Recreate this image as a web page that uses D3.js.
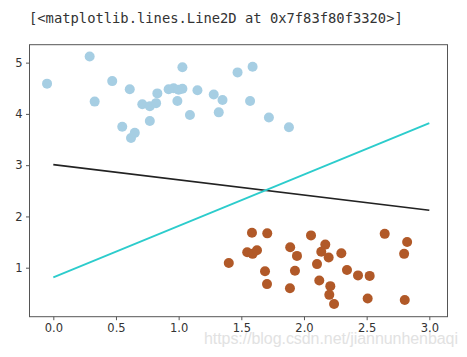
<!DOCTYPE html>
<html>
<head>
<meta charset="utf-8">
<script src="https://cdn.jsdelivr.net/npm/d3@7"></script>
<style>
html,body{margin:0;padding:0;background:#fff;}
svg{display:block;}
</style>
</head>
<body>
<svg id="chart" width="467" height="357"></svg>
<script>
// ---- data ----
const headerText = "[<matplotlib.lines.Line2D at 0x7f83f80f3320>]";
const watermark = "https://blog.csdn.net/jiannunhenbaqi";
const blueX = [-0.05,0.29,0.33,0.47,0.55,0.61,0.62,0.65,0.71,0.77,0.77,0.82,0.83,0.92,0.96,1.00,1.03,0.99,1.03,1.09,1.15,1.28,1.32,1.35,1.47,1.57,1.59,1.72,1.88];
const blueY = [4.59,5.12,4.24,4.64,3.75,4.48,3.53,3.63,4.19,4.15,3.86,4.21,4.40,4.48,4.50,4.47,4.49,4.25,4.91,3.98,4.46,4.38,4.03,4.27,4.81,4.25,4.92,3.93,3.74];
const orangeX = [1.40,1.585,1.707,1.547,1.59,1.625,1.689,1.705,1.89,1.944,1.928,1.888,2.056,2.104,2.122,2.17,2.138,2.197,2.298,2.343,2.431,2.524,2.21,2.202,2.24,2.508,2.644,2.823,2.799,2.804];
const orangeY = [1.09,1.68,1.67,1.30,1.27,1.34,0.93,0.68,1.40,1.23,0.94,0.60,1.63,1.07,0.75,1.45,1.31,1.20,1.28,0.955,0.85,0.84,0.64,0.47,0.29,0.40,1.66,1.50,1.27,0.37];
const lineX = [0, 3];
const blackLineY = [3.01, 2.12];
const cyanLineY = [0.81, 3.82];
const xTicks = [0, 0.5, 1.0, 1.5, 2.0, 2.5, 3.0];
const yTicks = [1, 2, 3, 4, 5];

// ---- layout ----
const svg = d3.select("#chart");
const pLeft = 29.5, pRight = 447.5, pTop = 44.7, pBottom = 316.7;
const x = d3.scaleLinear().domain([-0.19, 3.145]).range([pLeft, pRight]);
const y = d3.scaleLinear().domain([0.044, 5.35]).range([pBottom, pTop]);

svg.append("text")
  .attr("x", 29).attr("y", 23)
  .attr("font-family", "'DejaVu Sans Mono', monospace")
  .attr("font-size", 13.8)
  .attr("fill", "#333")
  .text(headerText);

const g = svg.append("g");

// points
g.selectAll("circle.b").data(blueX.map((v,i)=>[v, blueY[i]])).enter()
  .append("circle").attr("class","b")
  .attr("cx", d=>x(d[0])).attr("cy", d=>y(d[1])).attr("r", 5)
  .attr("fill", "#a6cee3");
g.selectAll("circle.o").data(orangeX.map((v,i)=>[v, orangeY[i]])).enter()
  .append("circle").attr("class","o")
  .attr("cx", d=>x(d[0])).attr("cy", d=>y(d[1])).attr("r", 5)
  .attr("fill", "#b15928");

const line = d3.line().x(d=>x(d[0])).y(d=>y(d[1]));
g.append("path").datum(lineX.map((v,i)=>[v, blackLineY[i]]))
  .attr("d", line).attr("fill","none").attr("stroke","#222").attr("stroke-width",1.6);
g.append("path").datum(lineX.map((v,i)=>[v, cyanLineY[i]]))
  .attr("d", line).attr("fill","none").attr("stroke","#2ccccc").attr("stroke-width",1.8);

// axes
const xAxis = d3.axisBottom(x).tickValues(xTicks).tickFormat(d3.format(".1f")).tickSizeOuter(0).tickSize(3.5).tickPadding(3.5);
const yAxis = d3.axisLeft(y).tickValues(yTicks).tickFormat(d3.format("d")).tickSizeOuter(0).tickSize(3.5).tickPadding(3.5);
const gx = svg.append("g").attr("transform", `translate(0,${pBottom})`).call(xAxis);
const gy = svg.append("g").attr("transform", `translate(${pLeft},0)`).call(yAxis);
[gx, gy].forEach(a => {
  a.select(".domain").remove();
  a.selectAll("line").attr("stroke", "#444").attr("stroke-width", 0.9);
  a.selectAll("text").attr("font-family", "'DejaVu Sans', sans-serif").attr("font-size", 11.5).attr("fill", "#333");
});

// spines
svg.append("rect").attr("x", pLeft).attr("y", pTop).attr("width", pRight-pLeft).attr("height", pBottom-pTop)
  .attr("fill","none").attr("stroke","#555").attr("stroke-width",1);

// watermark
svg.append("text")
  .attr("x", 204).attr("y", 344)
  .attr("font-family", "'Liberation Sans', Arial, sans-serif")
  .attr("font-size", 16)
  .attr("textLength", 254)
  .attr("fill", "#e2e2e2")
  .text(watermark);
</script>
</body>
</html>
